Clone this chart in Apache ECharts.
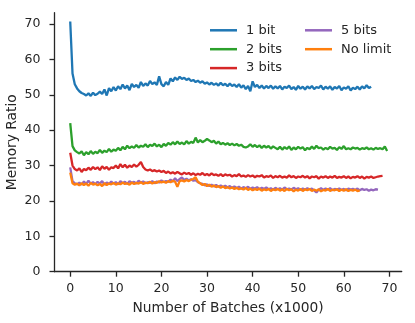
<!DOCTYPE html>
<html style="height: 100%">
    <head>
        <meta charset="utf-8">
    </head>
    <body style="height: 100%; margin: 0; background: #fff">
        <div id="container" style="width:415px;height:323px"></div>

        <script type="text/javascript" src="https://cdn.jsdelivr.net/npm/echarts@6.0.0/dist/echarts.min.js"></script>

        <script type="text/javascript">
// batches are sampled every 500 (x1000 units)
var batchStep = 0.5;
var xTicks = [0, 10, 20, 30, 40, 50, 60, 70];
var yTicks = [0, 10, 20, 30, 40, 50, 60, 70];
var seriesNames = ['1 bit', '2 bits', '3 bits', '5 bits', 'No limit'];
var seriesColors = ['#1f77b4', '#2ca02c', '#d62728', '#9467bd', '#ff7f0e'];

var bit1 = [70.7, 56, 53, 51.8, 51, 50.5, 50.2, 49.8, 50.4, 49.7, 50.6, 49.9, 50.3, 50.9, 50.2, 51.5, 49.8, 51.9, 51.0, 52.2,
    51.2, 52.4, 51.6, 52.9, 51.8, 52.6, 51.3, 53.1, 52.2, 52.8, 52.0, 53.6, 52.5, 53.2, 52.6, 53.9, 53.0, 53.5, 52.8, 55.2,
    53.0, 52.4, 53.6, 52.8, 54.6, 53.8, 54.9, 54.2, 55.1, 54.5, 54.8, 54.2, 54.6, 53.9, 54.2, 53.6, 54.0, 53.4, 53.8, 53.1,
    53.5, 52.9, 53.4, 52.8, 53.2, 52.6, 53.4, 52.7, 53.1, 52.4, 53.2, 52.5, 52.9, 52.2, 53.0, 52.0, 52.7, 51.6, 52.5, 51.0,
    53.8, 52.2, 52.8, 51.9, 52.6, 51.8, 52.5, 51.9, 52.6, 51.7, 52.4, 51.8, 52.5, 51.5, 52.3, 51.9, 52.6, 51.6, 52.2, 51.4,
    52.5, 51.7, 52.3, 51.5, 52.4, 51.8, 52.5, 51.6, 52.2, 51.9, 52.6, 51.5, 52.3, 51.7, 52.4, 51.4, 52.2, 51.8, 52.5, 51.3,
    52.1, 51.7, 52.4, 51.2, 52.0, 51.6, 52.3, 51.5, 52.4, 51.8, 52.7, 51.9, 52.3];

var bits2 = [42, 35.5, 34.3, 33.8, 33.4, 34.0, 32.9, 33.8, 33.2, 34.1, 33.3, 33.9, 33.5, 34.4, 33.6, 34.2, 33.8, 34.7, 33.9, 34.5,
    34.2, 35.0, 34.3, 35.3, 34.6, 35.6, 34.9, 35.4, 35.0, 35.8, 35.1, 35.6, 35.3, 36.0, 35.2, 35.9, 35.5, 36.2, 35.4, 35.9,
    35.2, 36.1, 35.6, 36.4, 35.9, 36.6, 36.0, 36.8, 36.1, 36.5, 36.0, 36.9, 36.2, 36.7, 36.4, 37.9, 36.5, 37.2, 36.6, 37.0,
    37.5, 37.1, 36.6, 37.0, 36.2, 36.8, 36.0, 36.4, 35.9, 36.3, 35.8, 36.2, 35.7, 36.1, 35.6, 35.9, 35.3, 35.1, 35.4, 36.0,
    35.3, 35.8, 35.2, 35.7, 35.0, 35.6, 35.1, 35.5, 34.8, 35.4, 35.0, 34.6, 35.3, 34.5, 35.2, 34.7, 35.4, 34.4, 35.1, 34.6,
    35.3, 34.8, 35.2, 34.3, 35.0, 34.6, 35.4, 34.7, 35.6, 34.9, 35.1, 34.5, 35.0, 34.6, 35.3, 34.8, 35.0, 34.4, 35.2, 34.7,
    35.5, 34.6, 34.9, 34.6, 35.1, 34.8, 35.0, 34.5, 34.9, 34.7, 35.1, 34.6, 34.9, 34.5, 35.0, 34.7, 34.9, 34.6, 35.4, 34.1];

var bits3 = [33.6, 30, 29.0, 28.6, 29.2, 28.2, 29.0, 28.7, 29.4, 28.8, 29.6, 29.0, 29.5, 28.7, 29.8, 29.1, 29.6, 28.8, 29.5, 29.3,
    30.0, 29.2, 30.4, 29.5, 30.2, 29.4, 30.0, 29.6, 30.3, 29.7, 30.2, 31.0, 29.6, 28.9, 28.6, 28.9, 28.4, 28.7, 28.3, 28.6,
    28.2, 28.5, 27.9, 28.3, 27.8, 28.1, 27.7, 28.2, 27.8, 27.5, 28.0, 27.6, 27.9, 27.4, 27.8, 27.3, 27.7, 27.4, 27.9, 27.3,
    27.6, 27.2, 27.8, 27.3, 27.5, 27.1, 27.6, 27.0, 27.5, 27.2, 27.4, 26.9, 27.3, 27.0, 27.6, 26.9, 27.2, 26.8, 27.3, 26.9,
    27.2, 26.7, 27.1, 26.9, 27.3, 26.6, 27.0, 26.8, 27.2, 26.5, 27.0, 26.7, 27.1, 26.6, 26.9, 26.6, 27.2, 26.7, 27.0, 26.5,
    26.9, 26.7, 27.1, 26.6, 27.0, 26.4, 26.9, 26.7, 27.0, 26.3, 26.9, 26.6, 27.0, 26.5, 26.9, 26.6, 27.1, 26.5, 26.8, 26.6,
    27.0, 26.5, 26.9, 26.4, 26.8, 26.6, 27.0, 26.5, 26.9, 26.3, 26.8, 26.6, 26.9, 26.5, 26.7, 26.9, 27.0, 27.1];

var bits5 = [29.5, 25.6, 25.0, 24.7, 25.2, 24.6, 25.5, 24.8, 25.7, 24.9, 25.3, 24.7, 25.4, 24.9, 25.6, 24.6, 25.2, 24.8, 25.5, 24.9,
    25.3, 24.7, 25.6, 25.0, 25.4, 24.8, 25.6, 25.1, 25.4, 24.9, 25.7, 25.2, 25.5, 25.0, 25.3, 25.1, 25.6, 25.0, 25.5, 25.2,
    25.8, 25.3, 25.6, 25.4, 26.0, 25.5, 26.4, 25.6, 26.2, 26.6, 25.9, 26.3, 25.8, 26.1, 25.7, 25.9, 25.3, 25.0, 24.8, 24.4,
    24.7, 24.2, 24.6, 24.1, 24.5, 24.0, 24.4, 23.9, 24.3, 23.8, 24.2, 23.7, 24.1, 23.6, 24.0, 23.5, 23.9, 23.6, 24.0, 23.4,
    23.8, 23.5, 23.9, 23.3, 23.7, 23.4, 23.8, 23.3, 23.6, 23.2, 23.7, 23.3, 23.6, 23.2, 23.8, 23.3, 23.5, 23.2, 23.7, 23.3,
    23.6, 23.1, 23.5, 23.2, 23.6, 23.3, 23.5, 23.0, 22.4, 23.2, 23.6, 23.1, 23.5, 23.2, 23.6, 23.0, 23.4, 23.2, 23.5, 23.1,
    23.4, 23.0, 23.5, 23.2, 23.4, 23.1, 23.5, 23.0, 23.4, 23.1, 23.3, 22.9, 23.2, 23.0, 23.3, 23.2];

var noLimit = [28.0, 25.0, 24.6, 24.9, 24.4, 25.0, 24.5, 24.9, 24.3, 25.1, 24.6, 24.9, 24.4, 24.8, 24.2, 25.0, 24.5, 24.9, 24.7, 25.1,
    24.6, 25.0, 24.7, 25.2, 24.8, 25.0, 24.6, 25.2, 24.8, 25.1, 24.9, 25.3, 24.8, 25.2, 25.0, 25.4, 24.9, 25.3, 25.1, 25.6,
    25.2, 25.5, 25.1, 25.6, 25.3, 25.7, 25.4, 24.0, 25.6, 25.8, 25.5, 25.9, 25.6, 26.0, 26.2, 26.7, 25.4, 25.0, 24.5, 24.8,
    24.2, 24.6, 24.0, 24.4, 23.9, 24.2, 23.7, 24.1, 23.6, 23.9, 23.5, 23.8, 23.4, 23.7, 23.3, 23.6, 23.2, 23.7, 23.1, 23.5,
    23.0, 23.4, 23.1, 23.5, 22.9, 23.3, 23.0, 23.4, 22.8, 23.3, 23.0, 23.4, 22.9, 23.3, 22.8, 23.4, 23.0, 23.3, 22.7, 23.2,
    22.9, 23.4, 22.8, 23.3, 23.0, 23.4, 22.8, 23.2, 22.9, 23.3, 22.7, 23.1, 22.9, 23.4, 22.8, 23.2, 23.0, 23.3, 22.8, 23.2,
    22.9, 23.3, 22.8, 23.1, 22.9, 23.2, 22.8, 23.0];

var allValues = [bit1, bits2, bits3, bits5, noLimit];

function toPairs(values) {
    return values.map(function (v, i) { return [i * batchStep, v]; });
}

var dom = document.getElementById("container");
var myChart = echarts.init(dom);

var axisColor = '#262626';
var font = 'DejaVu Sans';

function legendAt(names, left) {
    return {
        data: names,
        orient: 'vertical',
        left: left, top: 22.8,
        padding: 0,
        icon: 'rect', itemWidth: 27, itemHeight: 2.5, itemGap: 3.9,
        textStyle: {fontFamily: font, fontSize: 13, color: axisColor, lineHeight: 15, padding: [0, 0, 0, 4]}
    };
}

var option = {
    animation: false,
    grid: {left: 54.5, right: 13.3, top: 12.7, bottom: 51.3, outerBoundsMode: 'none'},
    legend: [legendAt(seriesNames.slice(0, 3), 210), legendAt(seriesNames.slice(3), 305)],
    xAxis: {
        type: 'value',
        min: -3.45, max: 72.7,
        name: 'Number of Batches (x1000)',
        nameLocation: 'middle', nameGap: 30, nameMoveOverlap: false,
        nameTextStyle: {fontFamily: font, fontSize: 13.8, color: axisColor},
        axisLine: {show: true, onZero: false, lineStyle: {color: axisColor, width: 1.3}},
        axisTick: {show: true, customValues: xTicks, length: 5, lineStyle: {color: axisColor, width: 1.3}},
        axisLabel: {customValues: xTicks, margin: 11, fontFamily: font, fontSize: 12.5, color: axisColor},
        splitLine: {show: false}
    },
    yAxis: {
        type: 'value',
        min: 0, max: 73.2,
        name: 'Memory Ratio',
        nameLocation: 'middle', nameGap: 35, nameMoveOverlap: false,
        nameTextStyle: {fontFamily: font, fontSize: 13.8, color: axisColor},
        axisLine: {show: true, onZero: false, lineStyle: {color: axisColor, width: 1.3}},
        axisTick: {show: true, customValues: yTicks, length: 5, lineStyle: {color: axisColor, width: 1.3}},
        axisLabel: {customValues: yTicks, margin: 14, fontFamily: font, fontSize: 12.5, color: axisColor},
        splitLine: {show: false}
    },
    series: seriesNames.map(function (name, k) {
        return {
            name: name,
            type: 'line',
            data: toPairs(allValues[k]),
            showSymbol: false,
            color: seriesColors[k],
            lineStyle: {width: 2.3, color: seriesColors[k]}
        };
    })
};

myChart.setOption(option);
        </script>
    </body>
</html>
